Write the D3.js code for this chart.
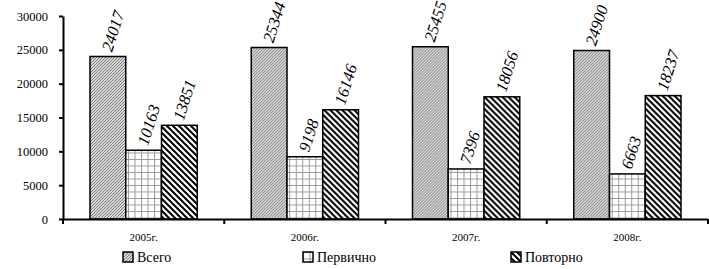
<!DOCTYPE html>
<html>
<head>
<meta charset="UTF-8">
<title>Всего / Первично / Повторно</title>
<script src="https://d3js.org/d3.v7.min.js"></script>
<style>
  body { margin: 0; background: #fff; font-family: "Liberation Serif", serif; }
  svg text { font-family: "Liberation Serif", "Times New Roman", serif; fill: #000; }
  .axis path, .axis line { stroke: #000; stroke-width: 2; }
</style>
</head>
<body>
<svg width="709" height="269"></svg>
<script>
const years = ["2005г.", "2006г.", "2007г.", "2008г."];
const seriesNames = ["Всего", "Первично", "Повторно"];
const vsego = [24017, 25344, 25455, 24900];
const pervichno = [10163, 9198, 7396, 6663];
const povtorno = [13851, 16146, 18056, 18237];
const yTicks = [0, 5000, 10000, 15000, 20000, 25000, 30000];

const seriesValues = [vsego, pervichno, povtorno];
const rows = years.map((y, i) => ({
  year: y,
  vals: seriesNames.map((s, k) => ({ key: s, idx: k, value: seriesValues[k][i] }))
}));

const serif = "Times New Roman";
const svg = d3.select("svg");
const margin = { top: 16, right: 1, bottom: 50, left: 63 };
const width = 709 - margin.left - margin.right;
const height = 269 - margin.top - margin.bottom;

// штриховки
const defs = svg.append("defs");
const p0 = defs.append("pattern").attr("id", "pat0").attr("patternUnits", "userSpaceOnUse")
  .attr("width", 3).attr("height", 3);
p0.append("rect").attr("width", 3).attr("height", 3).attr("fill", "#fff");
p0.append("path").attr("d", "M-1,1 l2,-2 M0,3 l3,-3 M2,4 l2,-2")
  .attr("stroke", "#777").attr("stroke-width", 1.1);

const p1 = defs.append("pattern").attr("id", "pat1").attr("patternUnits", "userSpaceOnUse")
  .attr("width", 6.5).attr("height", 6.5);
p1.append("rect").attr("width", 6.5).attr("height", 6.5).attr("fill", "#fff");
p1.append("path").attr("d", "M0,0.5 H6.5 M0.5,0 V6.5")
  .attr("stroke", "#999").attr("stroke-width", 1);

const p2 = defs.append("pattern").attr("id", "pat2").attr("patternUnits", "userSpaceOnUse")
  .attr("width", 6).attr("height", 6);
p2.append("rect").attr("width", 6).attr("height", 6).attr("fill", "#fff");
p2.append("path").attr("d", "M-1,5 l2,2 M0,0 l6,6 M5,-1 l2,2")
  .attr("stroke", "#000").attr("stroke-width", 2);

const fills = ["url(#pat0)", "url(#pat1)", "url(#pat2)"];

const g = svg.append("g").attr("transform", `translate(${margin.left},${margin.top})`);

const x0 = d3.scaleBand().domain(years).range([0, width]).paddingInner(0).paddingOuter(0);
const x1 = d3.scaleBand().domain(seriesNames).range([27, x0.bandwidth() - 27]);
const y = d3.scaleLinear().domain([0, 30000]).range([height, 0]);

// столбцы
const grp = g.selectAll(".grp").data(rows).enter().append("g")
  .attr("transform", d => `translate(${x0(d.year)},0)`);

grp.selectAll("rect").data(d => d.vals).enter().append("rect")
  .attr("x", d => x1(d.key))
  .attr("y", d => y(d.value))
  .attr("width", x1.bandwidth())
  .attr("height", d => height - y(d.value))
  .attr("fill", d => fills[d.idx])
  .attr("stroke", "#000")
  .attr("stroke-width", 1.5);

// подписи значений
grp.selectAll("text").data(d => d.vals).enter().append("text")
  .attr("font-family", serif)
  .attr("font-size", 16.5)
  .attr("font-style", "italic")
  .attr("transform", d => `translate(${x1(d.key) + x1.bandwidth() / 2 + 4},${y(d.value) - 4}) rotate(-72)`)
  .text(d => d.value);

// оси
const yAxis = g.append("g").attr("class", "axis")
  .call(d3.axisLeft(y).tickValues(yTicks).tickFormat(d3.format("d"))
    .tickSize(4).tickSizeOuter(0).tickPadding(11));
yAxis.attr("font-family", serif).attr("font-size", 12.5);

const xAxis = g.append("g").attr("class", "axis")
  .attr("transform", `translate(0,${height})`)
  .call(d3.axisBottom(x0).tickSize(0).tickSizeOuter(0).tickPadding(14));
xAxis.attr("font-family", serif).attr("font-size", 11);
// деления на границах групп
xAxis.selectAll(".bt").data(years.concat(["end"])).enter().append("line")
  .attr("x1", (d, i) => i < years.length ? x0(d) : width)
  .attr("x2", (d, i) => i < years.length ? x0(d) : width)
  .attr("y1", 0).attr("y2", 5)
  .attr("stroke", "#000").attr("stroke-width", 2);

// легенда
const legendX = [123, 303, 511];
const legend = svg.append("g");
const li = legend.selectAll("g").data(seriesNames).enter().append("g")
  .attr("transform", (d, i) => `translate(${legendX[i]},252)`);
li.append("rect").attr("width", 10).attr("height", 10)
  .attr("fill", (d, i) => fills[i]).attr("stroke", "#000").attr("stroke-width", 1.5);
li.append("text").attr("x", 14).attr("y", 10)
  .attr("font-family", serif).attr("font-size", 14).text(d => d);
</script>
</body>
</html>
